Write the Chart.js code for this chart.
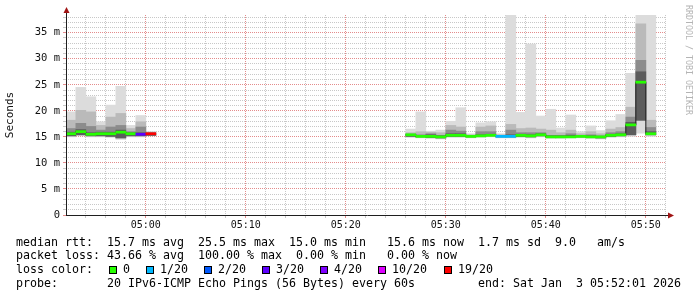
<!DOCTYPE html>
<html>
<head>
<meta charset="utf-8">
<script src="https://cdn.jsdelivr.net/npm/chart.js@4.4.1/dist/chart.umd.min.js"></script>
<style>
html,body{margin:0;padding:0;background:#fff;}
#wrap{position:relative;width:697px;height:297px;overflow:hidden;background:#fff;}
#c{position:absolute;left:0;top:0;}
.t{position:absolute;font-family:"DejaVu Sans Mono",monospace;font-size:11.63px;line-height:14px;white-space:pre;color:#000;}
.box{position:absolute;width:6px;height:6px;border:1px solid #000;top:266px;}
#wm{position:absolute;left:684px;top:5px;writing-mode:vertical-rl;font-family:"DejaVu Sans Mono",monospace;font-size:8.3px;color:#b4b4b4;white-space:pre;line-height:9px;}
</style>
</head>
<body>
<div id="wrap">
<canvas id="c" width="697" height="297"></canvas>
<div id="wm">RRDTOOL / TOBI OETIKER</div>
<div class="t" style="left:16px;top:235px;" id="l1"></div>
<div class="t" style="left:16px;top:248px;" id="l2"></div>
<div class="t" style="left:16px;top:262px;">loss color:</div>
<div id="l3"></div>
<div class="t" style="left:16px;top:276px;" id="l4"></div>
</div>
<script>
// ---- data ----
const times = ['04:52','04:53','04:54','04:55','04:56','04:57','04:58','04:59','05:00',
  '05:26','05:27','05:28','05:29','05:30','05:31','05:32','05:33','05:34','05:35','05:36',
  '05:37','05:38','05:39','05:40','05:41','05:42','05:43','05:44','05:45','05:46','05:47',
  '05:48','05:49','05:50'];
const medianRtt = [15.6,16.0,15.5,15.6,15.6,15.9,15.6,15.5,15.6,
  15.4,15.1,15.1,15.0,15.3,15.3,15.1,15.2,15.3,15.1,15.1,
  15.3,15.2,15.4,15.0,15.0,15.0,15.1,15.0,15.0,15.3,15.4,
  17.3,25.5,15.6];
const lossCount = [0,0,0,0,0,0,0,3,19,
  0,0,0,0,0,0,0,0,0,1,1,
  0,0,0,0,0,0,0,0,0,0,0,
  0,0,0];
const smokeMin = [15.0,15.2,15.0,15.0,14.9,14.5,15.0,15.0,15.2,
  14.9,14.8,14.7,14.6,14.9,14.9,14.8,14.9,15.0,14.8,14.8,
  14.9,14.8,15.0,14.7,14.7,14.8,14.8,14.7,14.6,14.9,15.0,
  15.1,15.7,15.1];
const smokeCoreLo = [15.2,15.4,15.2,15.2,15.1,14.8,15.2,15.2,15.3,
  15.1,15.0,14.9,14.8,15.1,15.1,15.0,15.1,15.2,15.0,15.0,
  15.1,15.0,15.2,14.9,14.9,15.0,15.0,14.9,14.8,15.1,15.2,
  15.4,18.2,15.4];
const smokeInnerHi = [15.9,16.4,15.8,15.9,15.9,16.3,15.8,15.8,15.7,
  15.5,15.3,15.4,15.2,15.6,15.6,15.2,15.4,15.5,15.2,15.4,
  15.5,15.4,15.6,15.2,15.2,15.3,15.2,15.2,15.1,15.5,15.6,
  17.8,27.5,16.0];
const smokeCoreHi = [16.6,17.6,17.0,16.3,16.9,17.2,16.0,16.9,15.8,
  15.5,15.4,15.6,15.3,16.3,16.1,15.2,16.0,16.0,15.2,16.3,
  15.8,15.8,15.8,15.3,15.3,15.6,15.3,15.4,15.2,15.8,16.0,
  18.8,29.7,16.8];
const smokeMid = [18.2,20.1,19.8,17.2,18.8,19.5,16.6,17.9,15.9,
  15.8,16.0,15.9,15.8,17.2,16.9,15.4,16.9,17.1,15.4,17.4,
  16.6,16.7,16.5,16.3,15.8,16.3,15.6,16.0,15.6,16.5,16.8,
  20.7,36.7,18.2];
const smokeMax = [19.8,24.5,22.7,17.9,21.1,24.7,17.2,19.1,16.0,
  16.5,19.8,16.1,16.3,18.0,20.6,15.6,17.7,17.9,15.6,40.5,
  19.7,32.8,19.0,20.3,16.7,19.2,16.0,17.1,16.2,18.1,19.3,
  27.2,40.5,40.5];
const xTickLabels = ['05:00','05:10','05:20','05:30','05:40','05:50'];
const yTickValues = [0,5,10,15,20,25,30,35];
const lossLevels = [0,1,2,3,4,10,19];
const lossLabels = ['0','1/20','2/20','3/20','4/20','10/20','19/20'];
const lossColors = ['#26ff00','#00b8ff','#0059ff','#5e00ff','#7e00ff','#dd00ff','#ff0000'];
const axisStart = '04:52:01';
const axisEnd = '05:52:01';
const yMax = 38.4;

// ---- helpers ----
function toMin(s){const p=s.split(':').map(Number);return p[0]*60+p[1]+(p[2]||0)/60;}
function fmt(m){const h=Math.floor(m/60),mm=Math.round(m-h*60);return String(h).padStart(2,'0')+':'+String(mm).padStart(2,'0');}
function lossColor(n){let c=lossColors[0];for(let i=0;i<lossLevels.length;i++){if(n>=lossLevels[i])c=lossColors[i];}return c;}
const xs = times.map(t=>toMin(t)+0.5);
const floating=(lo,hi)=>lo.map((v,i)=>({x:xs[i],y:[v,hi[i]]}));
const medBand = medianRtt.map((m,i)=>({x:xs[i],y:[m-0.2,m+0.2]}));
const stepPts=[];
xs.forEach((x,i)=>{ if(i>0 && x-xs[i-1]>1.5) stepPts.push({x:(x+xs[i-1])/2,y:null}); stepPts.push({x:x,y:medianRtt[i]}); });

const MONO='"DejaVu Sans Mono", monospace';
const GRID_MINOR='#c8c8c8', GRID_MAJOR='#e48c8c';
const barCommon={type:'bar',grouped:false,barPercentage:1,categoryPercentage:1,borderWidth:0};

const axisPlugin={id:'axes',afterDraw(chart){
  const {ctx,chartArea:a}=chart;
  ctx.save();
  ctx.strokeStyle='#1f1f1f';ctx.lineWidth=1;
  ctx.beginPath();ctx.moveTo(a.left+0.5,a.bottom+0.5);ctx.lineTo(a.left+0.5,a.top-3);ctx.stroke();
  ctx.beginPath();ctx.moveTo(a.left,a.bottom+0.5);ctx.lineTo(a.right+3,a.bottom+0.5);ctx.stroke();
  ctx.fillStyle='#a01414';
  ctx.beginPath();ctx.moveTo(a.left+0.5,a.top-8);ctx.lineTo(a.left-2.5,a.top-2);ctx.lineTo(a.left+3.5,a.top-2);ctx.closePath();ctx.fill();
  ctx.beginPath();ctx.moveTo(a.right+8,a.bottom+0.5);ctx.lineTo(a.right+2,a.bottom-2.5);ctx.lineTo(a.right+2,a.bottom+3.5);ctx.closePath();ctx.fill();
  ctx.restore();
}};

new Chart(document.getElementById('c'),{
  type:'bar',
  data:{datasets:[
    Object.assign({label:'smoke outer',data:floating(smokeMin,smokeMax),backgroundColor:'#dcdcdc',order:7},barCommon),
    Object.assign({label:'smoke mid',data:floating(smokeCoreLo,smokeMid),backgroundColor:'#bababa',order:6},barCommon),
    Object.assign({label:'smoke core',data:floating(smokeCoreLo,smokeCoreHi),backgroundColor:'#8c8c8c',order:5},barCommon),
    Object.assign({label:'smoke inner',data:floating(smokeCoreLo,smokeInnerHi),backgroundColor:'#5c5c5c',order:4},barCommon),
    {type:'line',label:'median step',data:stepPts,stepped:'middle',borderColor:'#202020',borderWidth:1,pointRadius:0,spanGaps:false,order:2},
    Object.assign({label:'median',data:medBand,backgroundColor:lossCount.map(lossColor),order:1},barCommon)
  ]},
  options:{
    responsive:false,animation:false,devicePixelRatio:1,
    layout:{padding:{left:0,top:15,right:31,bottom:0}},
    plugins:{legend:{display:false},tooltip:{enabled:false}},
    scales:{
      x:{type:'linear',offset:false,min:toMin(axisStart),max:toMin(axisEnd),
        afterBuildTicks(s){const t=[];for(let m=Math.ceil(s.min/2)*2;m<=s.max;m+=2)t.push({value:m});s.ticks=t;},
        afterFit(s){s.height=82;},
        ticks:{autoSkip:false,maxRotation:0,padding:1,color:'#111',font:{family:MONO,size:10},
          callback(v){const l=fmt(v);return xTickLabels.includes(l)?l:'';}},
        grid:{offset:false,drawTicks:true,tickLength:3,color(c){return c.tick&&c.tick.value%10===0?GRID_MAJOR:GRID_MINOR;},
          tickColor(c){return c.tick&&c.tick.value%10===0?GRID_MAJOR:GRID_MINOR;}},
        border:{display:false,dash:[1,1]}
      },
      y:{min:0,max:yMax,
        afterBuildTicks(s){const t=[];for(let v=0;v<=s.max;v++)t.push({value:v});s.ticks=t;},
        afterFit(s){s.width=66;},
        ticks:{autoSkip:false,padding:3,color:'#111',font:{family:MONO,size:10.5},
          callback(v){return yTickValues.includes(v)?(v===0?'0':v+' m'):'';}},
        grid:{drawTicks:true,tickLength:3,color(c){const v=c.tick?c.tick.value:0;return v===0?'rgba(0,0,0,0)':(v%5===0?GRID_MAJOR:GRID_MINOR);},
          tickColor(c){const v=c.tick?c.tick.value:0;return v%5===0?GRID_MAJOR:GRID_MINOR;}},
        border:{display:false,dash:[1,1]},
        title:{display:true,text:'Seconds',color:'#111',font:{family:MONO,size:11},padding:{top:4,bottom:0}}
      }
    }
  },
  plugins:[axisPlugin]
});

// ---- legend text ----
document.getElementById('l1').textContent='median rtt:  15.7 ms avg  25.5 ms max  15.0 ms min   15.6 ms now  1.7 ms sd  9.0   am/s';
document.getElementById('l2').textContent='packet loss: 43.66 % avg  100.00 % max  0.00 % min   0.00 % now';
document.getElementById('l4').textContent='probe:       20 IPv6-ICMP Echo Pings (56 Bytes) every 60s         end: Sat Jan  3 05:52:01 2026';
const boxX=[109,146,204,262,320,378,444];
const l3=document.getElementById('l3');
lossLabels.forEach((lab,i)=>{
  const b=document.createElement('div');b.className='box';b.style.left=boxX[i]+'px';b.style.background=lossColors[i];l3.appendChild(b);
  const t=document.createElement('div');t.className='t';t.style.left=(boxX[i]+14)+'px';t.style.top='262px';t.textContent=lab;l3.appendChild(t);
});
</script>
</body>
</html>
